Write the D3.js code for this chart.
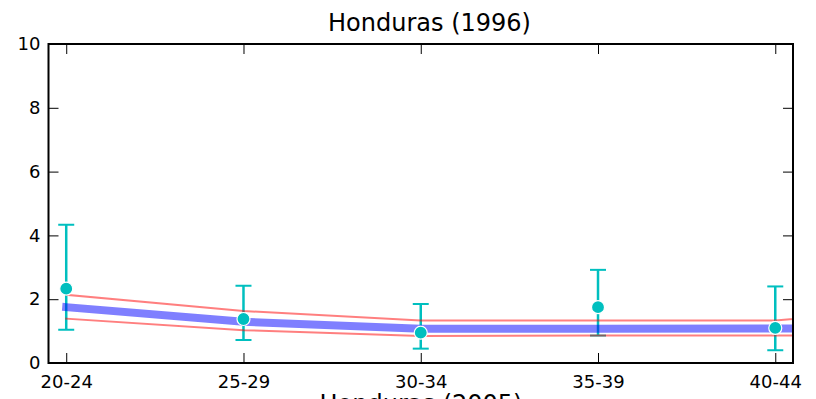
<!DOCTYPE html>
<html>
<head>
<meta charset="utf-8">
<script src="https://cdn.jsdelivr.net/npm/d3@7"></script>
<style>
  body { margin: 0; background: #fff; }
  svg { display: block; font-family: "DejaVu Sans", sans-serif; }
  .axis text { font-family: "DejaVu Sans", sans-serif; font-size: 18px; fill: #000; }
  .axis line { stroke: #000; stroke-width: 1; }
</style>
</head>
<body>
<script>
// age groups on the x axis (the fit runs one group past the visible range)
const ageGroups = ["20-24", "25-29", "30-34", "35-39", "40-44"];
const fitGroups = ["20-24", "25-29", "30-34", "35-39", "40-44", "45-49"];

// observed points with error bars
const observed = [2.33, 1.38, 0.95, 1.75, 1.10];
const obsUpper = [4.33, 2.42, 1.85, 2.92, 2.40];
const obsLower = [1.04, 0.72, 0.45, 0.86, 0.40];

// model fit and its band
const fitMean  = [1.75, 1.29, 1.07, 1.07, 1.08, 1.10];
const fitUpper = [2.14, 1.63, 1.33, 1.33, 1.33, 1.86];
const fitLower = [1.39, 1.03, 0.85, 0.86, 0.86, 0.88];

const yTicks = [0, 2, 4, 6, 8, 10];

const w = 816, h = 399;
const margin = {top: 44, right: 23, bottom: 36, left: 48.5};

const svg = d3.select("body")
  .append("svg")
  .attr("width", w)
  .attr("height", h);

const x = d3.scaleLinear()
  .domain([-0.1, ageGroups.length - 1 + 0.1])
  .range([margin.left, w - margin.right]);

const y = d3.scaleLinear()
  .domain([0, 10])
  .range([h - margin.bottom, margin.top]);

svg.append("clipPath")
  .attr("id", "plot-area")
  .append("rect")
  .attr("x", margin.left)
  .attr("y", margin.top)
  .attr("width", w - margin.left - margin.right)
  .attr("height", h - margin.top - margin.bottom);

const plot = svg.append("g").attr("clip-path", "url(#plot-area)");

const obs = ageGroups.map((g, i) => ({i: i, v: observed[i], lo: obsLower[i], hi: obsUpper[i]}));
const fit = fitGroups.map((g, i) => ({i: i, m: fitMean[i], lo: fitLower[i], hi: fitUpper[i]}));

const cyan = "#00bfbf";

// error bars
plot.selectAll(".err")
  .data(obs)
  .enter().append("line")
  .attr("x1", d => x(d.i)).attr("x2", d => x(d.i))
  .attr("y1", d => y(d.lo)).attr("y2", d => y(d.hi))
  .attr("stroke", cyan).attr("stroke-width", 2.5);

["lo", "hi"].forEach(k => {
  plot.selectAll(".cap-" + k)
    .data(obs)
    .enter().append("line")
    .attr("x1", d => x(d.i) - 8).attr("x2", d => x(d.i) + 8)
    .attr("y1", d => y(d[k])).attr("y2", d => y(d[k]))
    .attr("stroke", cyan).attr("stroke-width", 2);
});

// fit lines
const line = key => d3.line().x(d => x(d.i)).y(d => y(d[key]));

plot.append("path")
  .datum(fit)
  .attr("d", line("m"))
  .attr("fill", "none")
  .attr("stroke", "#0000ff")
  .attr("stroke-opacity", 0.5)
  .attr("stroke-width", 8)
  .attr("stroke-linecap", "square");

["lo", "hi"].forEach(k => {
  plot.append("path")
    .datum(fit)
    .attr("d", line(k))
    .attr("fill", "none")
    .attr("stroke", "#ff0000")
    .attr("stroke-opacity", 0.5)
    .attr("stroke-width", 2)
    .attr("stroke-linecap", "square");
});

// markers
plot.selectAll(".pt")
  .data(obs)
  .enter().append("circle")
  .attr("cx", d => x(d.i))
  .attr("cy", d => y(d.v))
  .attr("r", 6.5)
  .attr("fill", cyan)
  .attr("stroke", "#fff")
  .attr("stroke-width", 1.2);

// axes, ticks pointing inward
svg.append("g")
  .attr("class", "axis")
  .attr("transform", `translate(0,${h - margin.bottom})`)
  .call(d3.axisBottom(x).tickValues(d3.range(ageGroups.length))
    .tickFormat(i => ageGroups[i]).tickSize(-10).tickPadding(12));

svg.append("g")
  .attr("class", "axis")
  .attr("transform", `translate(0,${margin.top})`)
  .call(d3.axisTop(x).tickValues(d3.range(ageGroups.length))
    .tickFormat("").tickSize(-10));

svg.append("g")
  .attr("class", "axis")
  .attr("transform", `translate(${margin.left},0)`)
  .call(d3.axisLeft(y).tickValues(yTicks).tickSize(-10).tickPadding(8));

svg.append("g")
  .attr("class", "axis")
  .attr("transform", `translate(${w - margin.right},0)`)
  .call(d3.axisRight(y).tickValues(yTicks).tickFormat("").tickSize(-10));

svg.selectAll(".axis .domain").remove();

// frame
svg.append("rect")
  .attr("x", margin.left)
  .attr("y", margin.top)
  .attr("width", w - margin.left - margin.right)
  .attr("height", h - margin.top - margin.bottom)
  .attr("fill", "none")
  .attr("stroke", "#000")
  .attr("stroke-width", 2);

svg.append("text")
  .attr("x", 429.5)
  .attr("y", 30.5)
  .attr("text-anchor", "middle")
  .attr("font-size", 24)
  .text("Honduras (1996)");

// title of the next panel, cut by the window edge as in the original
svg.append("text")
  .attr("x", 421)
  .attr("y", 411.5)
  .attr("text-anchor", "middle")
  .attr("font-size", 24)
  .text("Honduras (2005)");
</script>
</body>
</html>
